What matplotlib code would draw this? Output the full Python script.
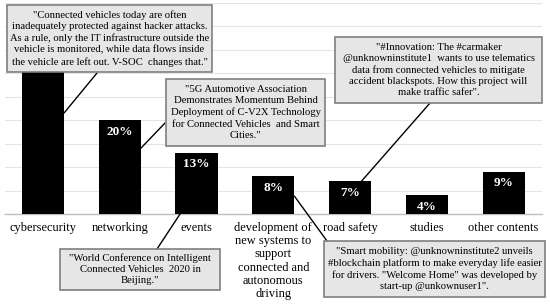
import matplotlib
matplotlib.use("Agg")
import matplotlib.pyplot as plt
from matplotlib.patches import Rectangle

categories = ["cybersecurity", "networking", "events",
              "development of\nnew systems to\nsupport\nconnected and\nautonomous\ndriving",
              "road safety", "studies", "other contents"]
values = [39, 20, 13, 8, 7, 4, 9]
labels = ["39%", "20%", "13%", "8%", "7%", "4%", "9%"]
# the first label is hidden behind a callout in the original
label_visible = [False, True, True, True, True, True, True]

callouts = [
    '"Connected vehicles today are often\ninadequately protected against hacker attacks.\nAs a rule, only the IT infrastructure outside the\nvehicle is monitored, while data flows inside\nthe vehicle are left out. V-SOC  changes that."',
    '"5G Automotive Association\nDemonstrates Momentum Behind\nDeployment of C-V2X Technology\nfor Connected Vehicles  and Smart\nCities."',
    '"#Innovation: The #carmaker\n@unknowninstitute1  wants to use telematics\ndata from connected vehicles to mitigate\naccident blackspots. How this project will\nmake traffic safer".',
    '"World Conference on Intelligent\nConnected Vehicles  2020 in\nBeijing."',
    '"Smart mobility: @unknowninstitute2 unveils\n#blockchain platform to make everyday life easier\nfor drivers. "Welcome Home" was developed by\nstart-up @unkownuser1".',
]

W, H = 550, 304
plt.rcParams['font.family'] = ['Liberation Serif', 'DejaVu Serif']
fig = plt.figure(figsize=(W / 100, H / 100), dpi=100)

def px(x, y):
    return (x / W, 1 - y / H)

l, r, b, t = 4.6, 542, 214, 2.5
ax = fig.add_axes([l / W, 1 - b / H, (r - l) / W, (b - t) / H])
x = list(range(len(categories)))
bw = 0.55
ax.bar(x, values, width=bw, color="black", zorder=3)
ax.set_xlim(-0.5, len(categories) - 0.5)
ax.set_ylim(0, 45)
ax.set_yticks(range(0, 46, 5))
ax.yaxis.grid(True, color="#e4e4e4", linewidth=0.8, zorder=0)
ax.tick_params(axis="y", left=False, labelleft=False)
ax.tick_params(axis="x", length=0, pad=6)
ax.set_xticks(x)
ax.set_xticklabels(categories, fontsize=8.9, linespacing=1.12, va="top")
for s in ["left", "right", "top"]:
    ax.spines[s].set_visible(False)
ax.spines["bottom"].set_color("#bfbfbf")
ax.spines["bottom"].set_linewidth(1)

for xi, v, lab, vis in zip(x, values, labels, label_visible):
    if vis:
        ax.annotate(lab, (xi, v), xytext=(0, -4), textcoords="offset points",
                    ha="center", va="top", color="white", fontweight="bold",
                    fontsize=9.5, zorder=4)

# callout boxes: (x0, y0, x1, y1) in pixels
boxes = [(7, 5, 212, 72), (166, 79, 325, 146), (335, 37, 542, 103),
         (60, 249, 220, 290), (324, 241, 545, 297)]
# connector: box point (pixels) -> bar point (data)
conns = [((97, 73), (0 + bw / 2, 21.5)),
         ((165, 123), (1 + bw / 2, 14.0)),
         ((430, 103), (4 + 0.15, 7.0)),
         ((157, 249), (2 - 0.15, 1.6)),
         ((327, 241), (3 + bw / 2, 3.8))]

for (x0, y0, x1, y1), txt in zip(boxes, callouts):
    fx0, fy1 = px(x0, y1)
    fx1, fy0 = px(x1, y0)
    rect = Rectangle((fx0, fy1), fx1 - fx0, fy0 - fy1, transform=fig.transFigure,
                     facecolor="#e7e6e6", edgecolor="#7f7f7f", linewidth=1.2, zorder=10)
    fig.add_artist(rect)
    fig.text((fx0 + fx1) / 2, (fy0 + fy1) / 2, txt, ha="center", va="center",
             fontsize=7.7, linespacing=1.3, zorder=11)

for (bp, dp) in conns:
    ax.annotate("", xy=dp, xycoords="data", xytext=px(*bp), textcoords="figure fraction",
                arrowprops=dict(arrowstyle="-", color="black", lw=1.0,
                                shrinkA=0, shrinkB=0), zorder=9, annotation_clip=False)

fig.savefig("out.png", dpi=100)
